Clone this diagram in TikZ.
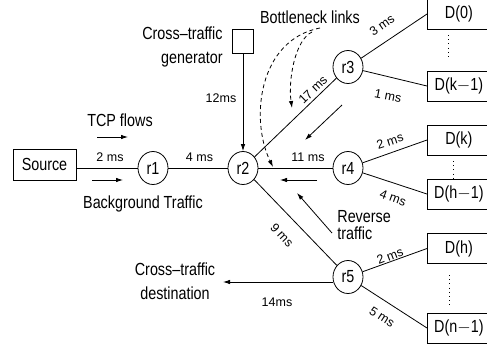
\documentclass[tikz,border=0pt]{standalone}
\usepackage{fontspec}
\setmainfont{Liberation Sans}
\newfontfamily\bigf{Liberation Sans}[FakeStretch=0.82]
\usetikzlibrary{arrows.meta,shapes.geometric}
\begin{document}
\begin{tikzpicture}[x=1pt,y=-1pt, line width=0.8pt,
  lbl/.style={font=\bigf\fontsize{17.5}{24}\selectfont, inner sep=0pt},
  ms/.style={font=\fontsize{12.5}{14}\selectfont, inner sep=0pt},
  router/.style={draw, ellipse, minimum width=30pt, minimum height=33pt, inner sep=0pt, font=\bigf\fontsize{17.5}{20}\selectfont},
  dbox/.style={draw, rectangle, minimum width=63pt, minimum height=30pt, inner sep=0pt, anchor=west, font=\bigf\fontsize{17.5}{20}\selectfont},
  arr/.style={-{Latex[length=7pt,width=4.5pt]}},
  dots/.style={dash pattern=on 0.8pt off 3.4pt}
]
\useasboundingbox (0,0) rectangle (487,349);

% nodes
\node[draw, rectangle, minimum width=63pt, minimum height=31pt, inner sep=0pt, font=\bigf\fontsize{17.5}{20}\selectfont] (src) at (44.5,164.5) {Source};
\node[router] (r1) at (153,168) {r1};
\node[router] (r2) at (243,168) {r2};
\node[router] (r3) at (348,67) {r3};
\node[router] (r4) at (348,168) {r4};
\node[router] (r5) at (348,277) {r5};
\node[draw, rectangle, minimum width=21pt, minimum height=24pt, inner sep=0pt] (gen) at (243,41) {};

\node[dbox, minimum height=31pt] (d0) at (427,14) {D(0)};
\node[dbox] (dk1) at (427,86) {D(k$-$1)};
\node[dbox] (dk) at (427,140) {D(k)};
\node[dbox] (dh1) at (427,194) {D(h$-$1)};
\node[dbox] (dh) at (427,248.5) {D(h)};
\node[dbox] (dn1) at (427,328) {D(n$-$1)};

% links
\draw (src.east |- r1) -- (r1);
\draw (r1) -- (r2);
\draw (r2) -- (r3);
\draw (r2) -- (r4);
\draw (r2) -- (r5);
\draw (r3) -- (d0.west);
\draw (r3) -- (dk1.west);
\draw (r4) -- (dk.west);
\draw (r4) -- (dh1.west);
\draw (r5) -- (dh.west);
\draw (r5) -- (dn1.west);
\draw[arr] (gen) -- (r2);
\coordinate (ctd) at (223,282);
\draw[arr] ([yshift=-5pt]r5.west) -- (ctd);

% dotted ellipses
\coordinate (p1a) at (448,35); \coordinate (p1b) at (448,59);
\coordinate (p2a) at (453,161); \coordinate (p2b) at (453,178);
\coordinate (p3a) at (449,275); \coordinate (p3b) at (449,306);
\draw[dots] (p1a) -- (p1b);
\draw[dots] (p2a) -- (p2b);
\draw[dots] (p3a) -- (p3b);

% flow arrows
\coordinate (tcpA) at (97,137); \coordinate (tcpB) at (128,137);
\draw[arr] (tcpA) -- (tcpB);
\coordinate (bgA) at (92,180); \coordinate (bgB) at (123,180);
\draw[arr] (bgA) -- (bgB);
\coordinate (rvA) at (317,180); \coordinate (rvB) at (280,180);
\draw[arr] (rvA) -- (rvB);
\coordinate (rdA) at (332,233); \coordinate (rdB) at (297,193);
\draw[arr] (rdA) -- (rdB);
\coordinate (r3A) at (342,105); \coordinate (r3B) at (305,140);
\draw[arr] (r3A) -- (r3B);

% bottleneck dashed curves
\coordinate (bA) at (320,28); \coordinate (bB) at (273,167);
\draw[arr, dash pattern=on 4pt off 3pt] (bA) .. controls (258,40) and (250,120) .. (bB);
\coordinate (cA) at (312,32); \coordinate (cB) at (292,108);
\draw[arr, dash pattern=on 4pt off 3pt] (cA) .. controls (295,40) and (288,80) .. (cB);

% texts
\node[lbl, align=right, anchor=east] (ctg) at (223,47) {Cross–traffic\\generator};
\node[lbl] (bn) at (310,17) {Bottleneck links};
\node[lbl] (tcp) at (120,120) {TCP flows};
\node[lbl] (bg) at (143,204) {Background Traffic};
\node[lbl, align=center] (ctdt) at (175,281) {Cross–traffic\\destination};
\node[lbl, align=left, anchor=west, font=\bigf\fontsize{17.5}{17}\selectfont] (rev) at (337,225) {Reverse\\traffic};

% delay labels
\node[ms] (l1) at (110,157) {2 ms};
\node[ms] (l2) at (199.5,157) {4 ms};
\node[ms] (l3) at (221,98) {12ms};
\node[ms] (l4) at (308,157) {11 ms};
\node[ms, rotate=44] (l5) at (313,90) {17 ms};
\node[ms, rotate=35] (l6) at (382,25) {3 ms};
\node[ms, rotate=-11] (l7) at (388,96) {1 ms};
\node[ms, rotate=18] (l8) at (390,141) {2 ms};
\node[ms, rotate=-20] (l9) at (393,198) {4 ms};
\node[ms, rotate=-47] (l10) at (282,235) {9 ms};
\node[ms, rotate=21] (l11) at (390,256) {2 ms};
\node[ms, rotate=-33] (l12) at (382,317) {5 ms};
\node[ms] (l13) at (277,302) {14ms};
\end{tikzpicture}
\end{document}
